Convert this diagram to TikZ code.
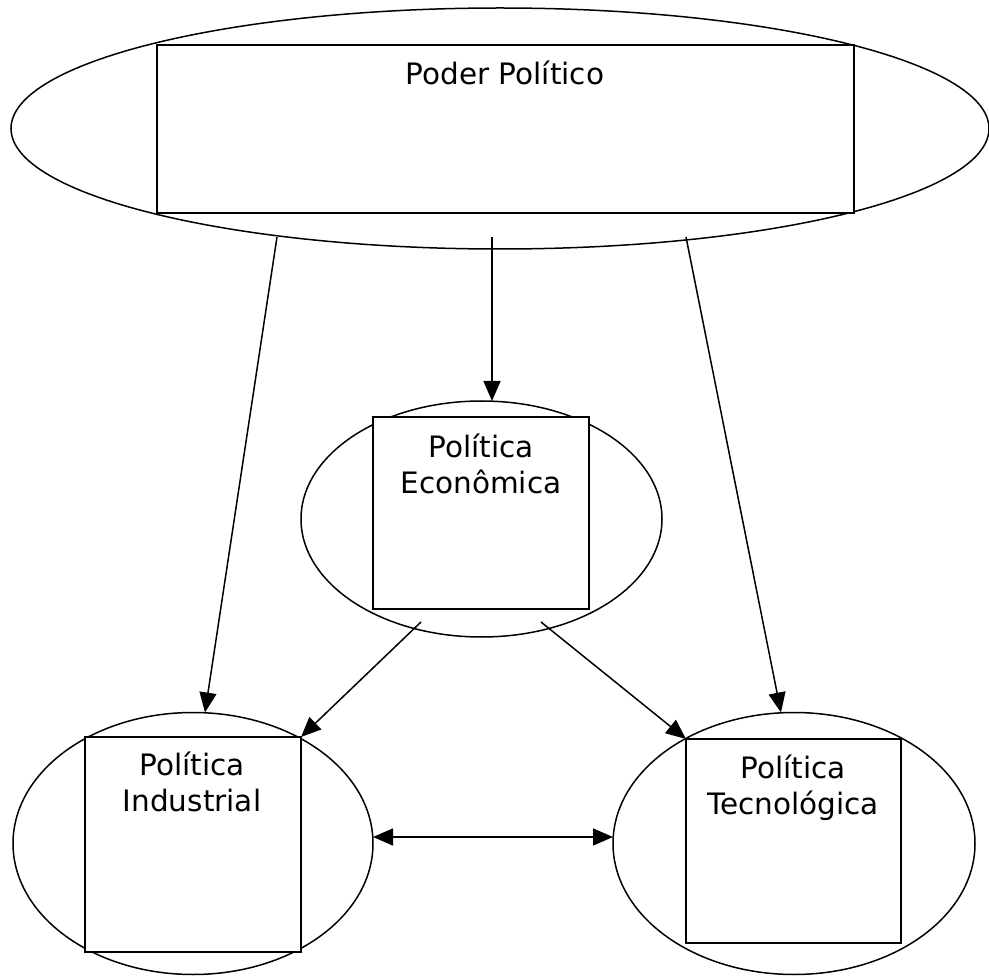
\documentclass[tikz,border=0pt]{standalone}
\usepackage{fontspec}
\setmainfont{DejaVu Sans}
\usetikzlibrary{shapes.geometric,arrows.meta}
\begin{document}
\begin{tikzpicture}[x=1pt,y=-1pt,
  ell/.style={draw, ellipse, inner sep=0pt, outer sep=0pt, line width=1.5pt},
  box/.style={draw, rectangle, fill=white, inner sep=0pt, outer sep=0pt, line width=1.5pt},
  lbl/.style={anchor=base, inner sep=0pt, font=\fontsize{29.5}{36}\selectfont},
  tip/.style={Triangle[length=20pt,width=17pt]},
  arr/.style={line width=1.5pt, -{Triangle[length=20pt,width=17pt]}},
  darr/.style={line width=1.5pt, {Triangle[length=20pt,width=17pt]}-{Triangle[length=20pt,width=17pt]}}]
\useasboundingbox (0,0) rectangle (989,976);

% ellipses
\node[ell, minimum width=978pt, minimum height=241pt] (top) at (500,128.5) {};
\node[ell, minimum width=361pt, minimum height=236pt] (mid) at (481.5,519) {};
\node[ell, minimum width=360pt, minimum height=262pt] (bl) at (193,843.5) {};
\node[ell, minimum width=362pt, minimum height=262pt] (br) at (794,843.5) {};

% boxes inside the ellipses
\node[box, minimum width=697pt, minimum height=168pt] (topr) at (505.5,129) {};
\node[box, minimum width=216pt, minimum height=192pt] (midr) at (481,513) {};
\node[box, minimum width=216pt, minimum height=215pt] (blr) at (193,844.5) {};
\node[box, minimum width=215pt, minimum height=204pt] (brr) at (793.5,841) {};

% labels
\node[lbl] (ttop) at (505,85) {Poder Político};
\node[lbl] (tmid) at (481,457) {\begin{tabular}[t]{@{}c@{}}Política\\Econômica\end{tabular}};
\node[lbl] (tbl) at (192,775) {\begin{tabular}[t]{@{}c@{}}Política\\Industrial\end{tabular}};
\node[lbl] (tbr) at (793,778) {\begin{tabular}[t]{@{}c@{}}Política\\Tecnológica\end{tabular}};

% connectors
\draw[arr] ([xshift=-223pt,yshift=12pt]top.south) -- ([xshift=12pt]bl.north);
\draw[arr] ([xshift=-8pt,yshift=12pt]top.south) -- ([xshift=10.5pt]mid.north);
\draw[arr] ([xshift=186pt,yshift=12pt]top.south) -- ([xshift=-13pt]br.north);
\draw[arr] ([xshift=-60.5pt,yshift=15pt]mid.south) -- (blr.north east);
\draw[arr] ([xshift=59.5pt,yshift=15pt]mid.south) -- (brr.north west);
\draw[darr] ([yshift=6.5pt]bl.east) -- ([yshift=6.5pt]br.west);
\end{tikzpicture}
\end{document}
